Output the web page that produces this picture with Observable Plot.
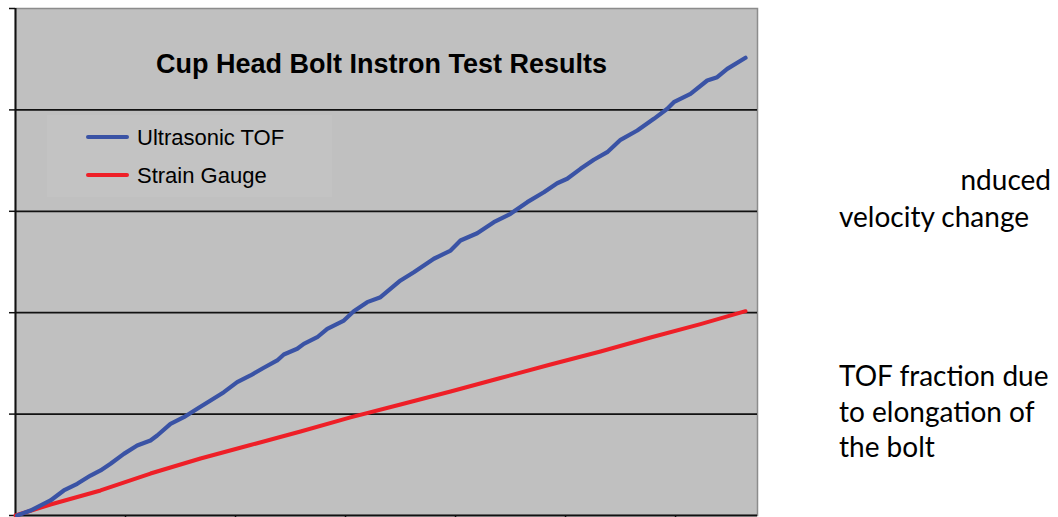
<!DOCTYPE html>
<html><head><meta charset="utf-8">
<script src="https://cdn.jsdelivr.net/npm/d3@7"></script>
<script src="https://cdn.jsdelivr.net/npm/@observablehq/plot@0.6"></script>
<style>
body{margin:0;background:#fff;}
#wrap{position:relative;width:1058px;height:517px;overflow:hidden;}
#wrap svg.overlay{position:absolute;left:0;top:0;pointer-events:none;}
</style></head><body><div id="wrap"></div>
<script>
const title = "Cup Head Bolt Instron Test Results";
const seriesNames = ["Ultrasonic TOF", "Strain Gauge"];
const seriesColors = ["#3a53a5", "#ee1f27"];

const tofX = [0.015,0.136,0.318,0.439,0.561,0.682,0.773,0.864,0.985,1.106,1.227,1.288,1.409,1.530,1.652,1.773,1.894,2.015,2.136,2.257,2.379,2.439,2.561,2.621,2.743,2.834,2.985,3.075,3.197,3.318,3.5,3.621,3.803,3.955,4.045,4.197,4.348,4.5,4.652,4.803,4.924,5.015,5.136,5.257,5.379,5.5,5.652,5.803,5.925,5.984,6.136,6.288,6.379,6.470,6.636];
const tofY = [0,0.049,0.148,0.247,0.313,0.394,0.444,0.510,0.608,0.690,0.740,0.789,0.904,0.969,1.052,1.134,1.216,1.315,1.381,1.457,1.529,1.588,1.644,1.693,1.758,1.841,1.923,2.015,2.104,2.153,2.318,2.399,2.532,2.613,2.712,2.784,2.893,2.975,3.090,3.188,3.277,3.321,3.419,3.508,3.583,3.705,3.797,3.912,4.011,4.076,4.159,4.290,4.323,4.405,4.514];

const sgX = [0,0.318,0.773,1.227,1.682,2.136,2.591,3.045,3.5,3.955,4.409,4.864,5.318,5.773,6.227,6.636];
const sgY = [0,0.108,0.247,0.414,0.562,0.695,0.828,0.967,1.095,1.223,1.356,1.489,1.617,1.755,1.888,2.015];

const xTicks = [0,1,2,3,4,5,6];
const yTicks = [0,1,2,3,4,5];
const gridValues = [1,2,3,4];
const noteTop = ["nduced", "velocity change"];
const noteBottom = ["TOF fraction due", "to elongation of", "the bolt"];

const tofRows = tofX.map((x, i) => ({series: seriesNames[0], x, y: tofY[i]}));
const sgRows = sgX.map((x, i) => ({series: seriesNames[1], x, y: sgY[i]}));

const chart = Plot.plot({
  width: 1058, height: 517,
  marginLeft: 15, marginRight: 301, marginTop: 8, marginBottom: 2,
  x: {type: "linear", domain: [0, 6.745], axis: null},
  y: {type: "linear", domain: [0, 5], axis: null},
  style: {background: "transparent", overflow: "visible"},
  marks: [
    Plot.frame({fill: "#c0c0c0", stroke: "#8c8c8c", strokeWidth: 1.5}),
    Plot.ruleY(gridValues, {stroke: "#111", strokeWidth: 1.8}),
    Plot.axisY({ticks: yTicks, tickSize: 6, tickFormat: () => "", label: null, stroke: "#111", strokeWidth: 1.5}),
    Plot.axisX({ticks: xTicks, tickSize: 6, tickFormat: () => "", label: null, stroke: "#111", strokeWidth: 1.5}),
    Plot.ruleX([0], {stroke: "#111", strokeWidth: 2}),
    Plot.ruleY([0], {stroke: "#111", strokeWidth: 2}),
    Plot.line(sgRows, {x: "x", y: "y", stroke: seriesColors[1], strokeWidth: 4, curve: "linear"}),
    Plot.line(tofRows, {x: "x", y: "y", stroke: seriesColors[0], strokeWidth: 4.2, curve: "linear"}),
    Plot.text([title], {frameAnchor: "top", lineAnchor: "middle", dx: -5, dy: 56, fontSize: 27, fontWeight: "bold",
      fontFamily: "'Liberation Sans', Arial, sans-serif", fill: "#000"})
  ]
});

const wrap = document.getElementById("wrap");
wrap.appendChild(chart);

// overlay: legend and side notes
const ov = d3.select(wrap).append("svg").attr("class", "overlay")
  .attr("width", 1058).attr("height", 517);

const lg = ov.append("g");
lg.append("rect").attr("x", 47).attr("y", 115).attr("width", 285).attr("height", 82)
  .attr("fill", "#c3c3c3");
seriesNames.forEach((name, i) => {
  const cy = 137 + i * 38;
  lg.append("line").attr("x1", 88).attr("x2", 127).attr("y1", cy).attr("y2", cy)
    .attr("stroke", seriesColors[i]).attr("stroke-width", 4).attr("stroke-linecap", "round");
  lg.append("text").attr("x", 137).attr("y", cy + 8).text(name)
    .attr("font-family", "'Liberation Sans', Arial, sans-serif").attr("font-size", 22).attr("fill", "#000");
});

const noteFont = "Lato, 'Open Sans', sans-serif";
const noteSize = 28;
ov.append("text").attr("x", 1051).attr("y", 190).attr("text-anchor", "end")
  .attr("font-family", noteFont).attr("font-size", noteSize).attr("fill", "#000").text(noteTop[0]);
ov.append("text").attr("x", 839).attr("y", 227)
  .attr("font-family", noteFont).attr("font-size", noteSize).attr("fill", "#000").text(noteTop[1]);
noteBottom.forEach((t, i) => {
  ov.append("text").attr("x", 839).attr("y", 386 + i * 35.5)
    .attr("font-family", noteFont).attr("font-size", noteSize).attr("fill", "#000").text(t);
});
</script>
</body></html>
